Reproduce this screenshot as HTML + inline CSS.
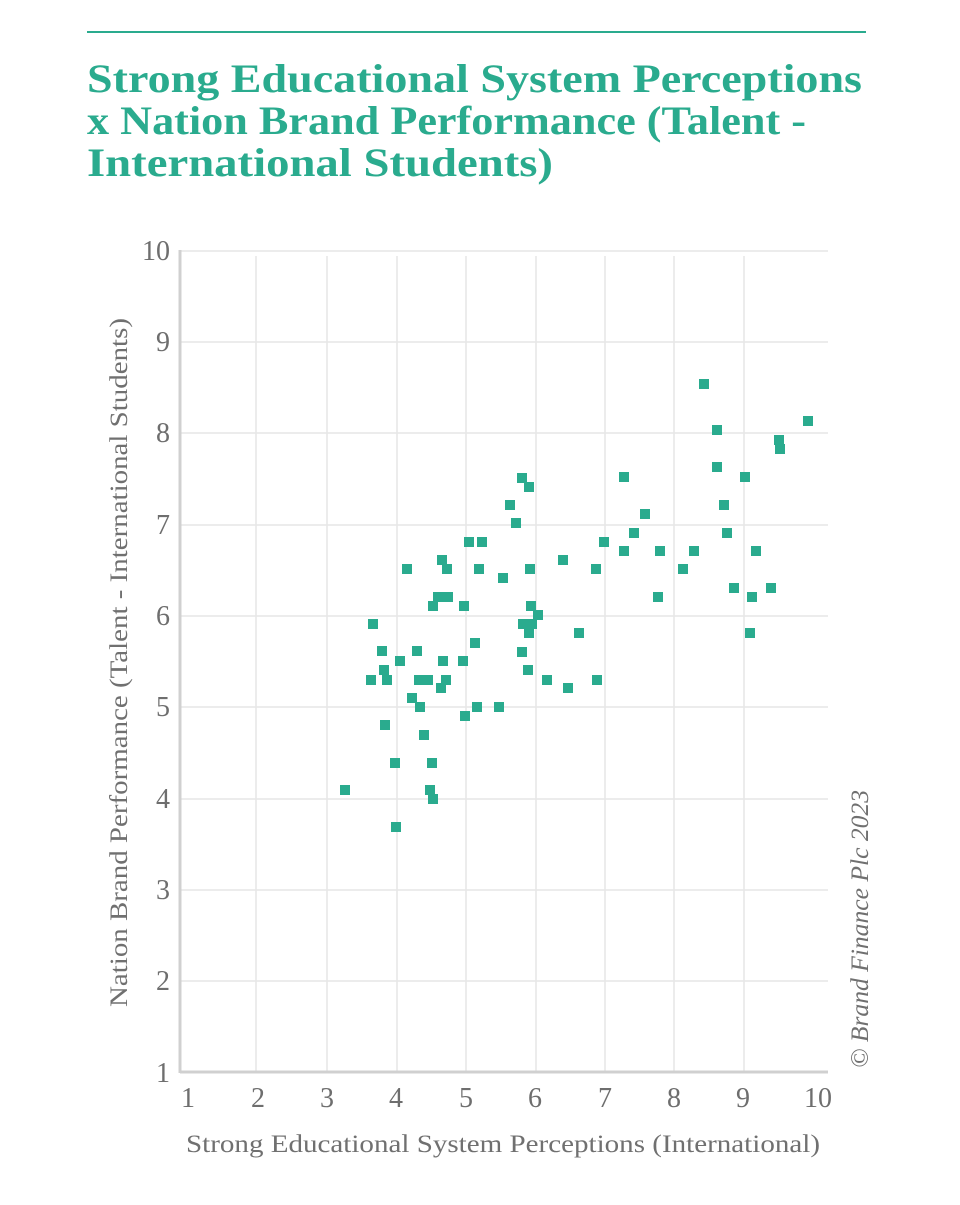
<!DOCTYPE html>
<html><head><meta charset="utf-8"><style>
body{margin:0;background:#fff;width:960px;height:1200px;overflow:hidden;font-family:"Liberation Serif",serif}
</style></head><body>
<svg width="960" height="1200" xmlns="http://www.w3.org/2000/svg">
<line x1="87" y1="32" x2="866" y2="32" stroke="#2aab8e" stroke-width="2"/>
<g fill="#2aab8e" font-family="Liberation Serif, serif" font-weight="bold" font-size="40" lengthAdjust="spacingAndGlyphs">
<text x="87" y="92" textLength="775" lengthAdjust="spacingAndGlyphs">Strong Educational System Perceptions</text>
<text x="87" y="134" textLength="719" lengthAdjust="spacingAndGlyphs">x Nation Brand Performance (Talent -</text>
<text x="87" y="176" textLength="466" lengthAdjust="spacingAndGlyphs">International Students)</text>
</g>
<g stroke="#e6e6e6" stroke-width="1.5">
<line x1="180" y1="251" x2="828" y2="251"/><line x1="180" y1="342" x2="828" y2="342"/>
<line x1="180" y1="433" x2="828" y2="433"/><line x1="180" y1="525" x2="828" y2="525"/>
<line x1="180" y1="616" x2="828" y2="616"/><line x1="180" y1="707" x2="828" y2="707"/>
<line x1="180" y1="799" x2="828" y2="799"/><line x1="180" y1="890" x2="828" y2="890"/>
<line x1="180" y1="981" x2="828" y2="981"/>
<line x1="256" y1="256" x2="256" y2="1072"/><line x1="327" y1="256" x2="327" y2="1072"/>
<line x1="397" y1="256" x2="397" y2="1072"/><line x1="466" y1="256" x2="466" y2="1072"/>
<line x1="536" y1="256" x2="536" y2="1072"/><line x1="605" y1="256" x2="605" y2="1072"/>
<line x1="674" y1="256" x2="674" y2="1072"/><line x1="744" y1="256" x2="744" y2="1072"/>
</g>
<line x1="180" y1="250" x2="180" y2="1073" stroke="#d0d0d0" stroke-width="3"/>
<line x1="180" y1="1072" x2="828" y2="1072" stroke="#d0d0d0" stroke-width="3"/>
<g fill="#6e6e6e" font-size="28" text-anchor="end">
<text x="170" y="260">10</text><text x="170" y="351">9</text><text x="170" y="442">8</text>
<text x="170" y="534">7</text><text x="170" y="625">6</text><text x="170" y="716">5</text>
<text x="170" y="808">4</text><text x="170" y="899">3</text><text x="170" y="990">2</text>
<text x="170" y="1082">1</text>
</g>
<g fill="#6e6e6e" font-size="28" text-anchor="middle">
<text x="188" y="1107">1</text><text x="258" y="1107">2</text><text x="327" y="1107">3</text>
<text x="396" y="1107">4</text><text x="466" y="1107">5</text><text x="535" y="1107">6</text>
<text x="605" y="1107">7</text><text x="674" y="1107">8</text><text x="743" y="1107">9</text>
<text x="818" y="1107">10</text>
</g>
<text x="186" y="1152" fill="#707070" font-size="25" textLength="634" lengthAdjust="spacingAndGlyphs">Strong Educational System Perceptions (International)</text>
<text transform="translate(127,1007) rotate(-90)" fill="#707070" font-size="25" textLength="689" lengthAdjust="spacingAndGlyphs">Nation Brand Performance (Talent - International Students)</text>
<text transform="translate(868,1068) rotate(-90)" fill="#707070" font-size="25" font-style="italic" textLength="278" lengthAdjust="spacingAndGlyphs">© Brand Finance Plc 2023</text>
<g fill="#2aab8e" id="pts"></g>
</svg>
<script>
var p=[[345,790],[373,624],[371,680],[382,651],[384,670],[387,680],[385,725],[395,763],[396,827],[400,661],[407,569],[412,698],[417,651],[419,680],[420,707],[424,735],[428,680],[430,790],[432,763],[433,799],[433,606],[438,597],[442,560],[441,597],[443,661],[441,688],[446,680],[447,569],[448,597],[463,661],[464,606],[465,716],[469,542],[475,643],[477,707],[479,569],[482,542],[499,707],[503,578],[510,505],[516,523],[522,478],[523,624],[522,652],[529,487],[530,569],[527,624],[529,633],[531,606],[528,670],[532,624],[538,615],[547,680],[563,560],[568,688],[579,633],[596,569],[597,680],[604,542],[624,477],[624,551],[634,533],[645,514],[658,597],[660,551],[683,569],[694,551],[704,384],[717,430],[717,467],[724,505],[727,533],[734,588],[745,477],[750,633],[752,597],[756,551],[771,588],[779,440],[780,449],[808,421]];
var g=document.getElementById('pts'),s='';
p.forEach(function(a){s+='<rect x="'+(a[0]-5)+'" y="'+(a[1]-5)+'" width="10" height="10"/>';});
g.innerHTML=s;
</script>
</body></html>
